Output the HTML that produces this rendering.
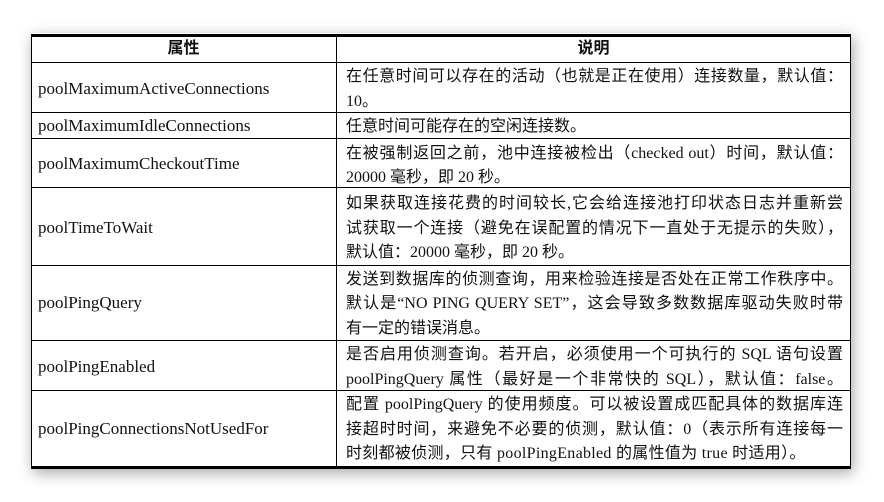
<!DOCTYPE html>
<html><head><meta charset="utf-8">
<style>
html,body{margin:0;padding:0;width:884px;height:502px;background:#fff;overflow:hidden;}
#card{position:absolute;left:31px;top:33px;width:820px;height:436px;background:#fff;box-shadow:2px 4px 14px rgba(0,0,0,0.35);}
.h{position:absolute;left:0;width:820px;background:#000;}
.v{position:absolute;top:3px;width:1px;height:431px;background:#000;}
.t{position:absolute;font-family:"Liberation Serif","Noto Sans CJK SC",serif;font-size:16px;color:#111;line-height:20px;white-space:nowrap;}
.l{left:7px;font-size:17px;}
.r{left:315px;}
.j{width:497px;text-align:justify;text-align-last:justify;}
.hd{font-family:"Liberation Sans","Noto Sans CJK SC",sans-serif;font-weight:bold;font-size:16px;}
</style></head><body>
<div id="card">
<div class="h" style="top:1px;height:3px"></div>
<div class="h" style="top:29px;height:1px"></div>
<div class="h" style="top:79px;height:1px"></div>
<div class="h" style="top:105px;height:1px"></div>
<div class="h" style="top:154px;height:1px"></div>
<div class="h" style="top:232px;height:1px"></div>
<div class="h" style="top:307px;height:1px"></div>
<div class="h" style="top:357px;height:1px"></div>
<div class="h" style="top:433px;height:3px"></div>
<div class="v" style="left:0"></div>
<div class="v" style="left:305px"></div>
<div class="v" style="left:819px"></div>

<div class="t hd" style="left:0;width:305px;text-align:center;top:6px">属性</div>
<div class="t hd" style="left:305px;width:515px;text-align:center;top:6px">说明</div>

<div class="t l" style="top:46px">poolMaximumActiveConnections</div>
<div class="t r j" style="top:34px">在任意时间可以存在的活动（也就是正在使用）连接数量，默认值：</div>
<div class="t r" style="top:59px">10。</div>

<div class="t l" style="top:83px">poolMaximumIdleConnections</div>
<div class="t r" style="top:84px">任意时间可能存在的空闲连接数。</div>

<div class="t l" style="top:121px">poolMaximumCheckoutTime</div>
<div class="t r j" style="top:111px">在被强制返回之前，池中连接被检出（checked out）时间，默认值：</div>
<div class="t r" style="top:135px">20000 毫秒，即 20 秒。</div>

<div class="t l" style="top:185px">poolTimeToWait</div>
<div class="t r j" style="top:161px">如果获取连接花费的时间较长,它会给连接池打印状态日志并重新尝</div>
<div class="t r j" style="top:186px">试获取一个连接（避免在误配置的情况下一直处于无提示的失败），</div>
<div class="t r" style="top:210px">默认值：20000 毫秒，即 20 秒。</div>

<div class="t l" style="top:260px">poolPingQuery</div>
<div class="t r j" style="top:237px">发送到数据库的侦测查询，用来检验连接是否处在正常工作秩序中。</div>
<div class="t r j" style="top:261px">默认是“NO PING QUERY SET”，这会导致多数数据库驱动失败时带</div>
<div class="t r" style="top:286px">有一定的错误消息。</div>

<div class="t l" style="top:324px">poolPingEnabled</div>
<div class="t r j" style="top:312px">是否启用侦测查询。若开启，必须使用一个可执行的 SQL 语句设置</div>
<div class="t r j" style="top:337px">poolPingQuery 属性（最好是一个非常快的 SQL），默认值：false。</div>

<div class="t l" style="top:386px">poolPingConnectionsNotUsedFor</div>
<div class="t r j" style="top:362px">配置 poolPingQuery 的使用频度。可以被设置成匹配具体的数据库连</div>
<div class="t r j" style="top:387px">接超时时间，来避免不必要的侦测，默认值：0（表示所有连接每一</div>
<div class="t r" style="top:411px;letter-spacing:0.3px">时刻都被侦测，只有 poolPingEnabled 的属性值为 true 时适用）。</div>
</div>
</body></html>
